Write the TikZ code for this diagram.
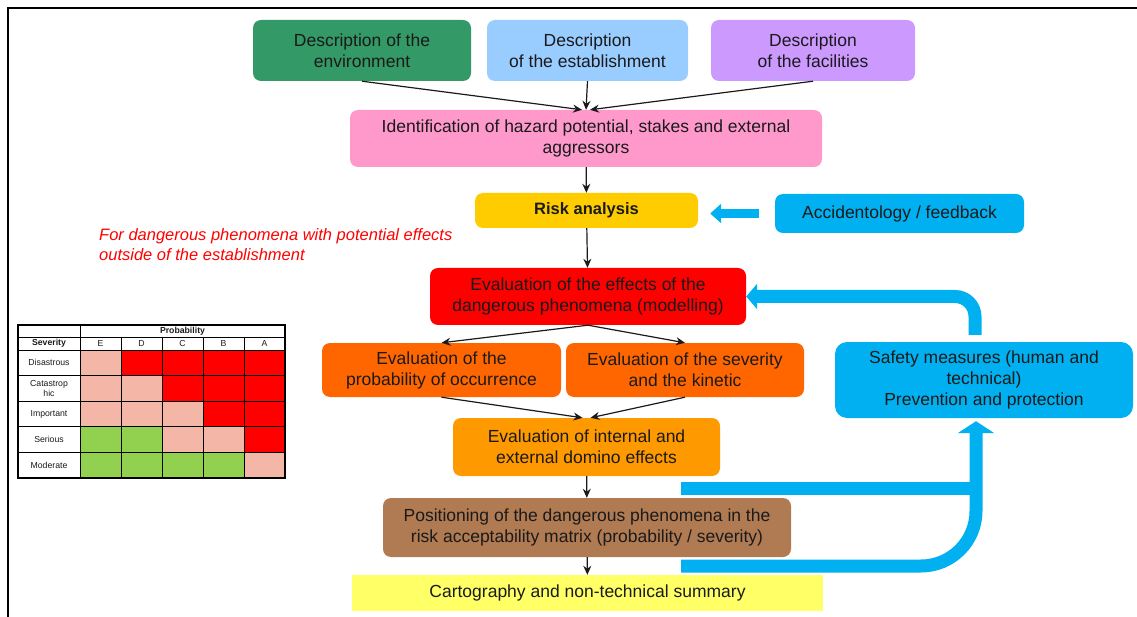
\documentclass[tikz,border=0pt]{standalone}
\usepackage{fontspec}
\setmainfont{Liberation Sans}
\usetikzlibrary{arrows.meta}
\definecolor{envgreen}{HTML}{339966}
\definecolor{estblue}{HTML}{99CCFF}
\definecolor{faclilac}{HTML}{CC99FF}
\definecolor{hazpink}{HTML}{FF99CC}
\definecolor{riskgold}{HTML}{FFCC00}
\definecolor{skyblue}{HTML}{00B0F0}
\definecolor{evalred}{HTML}{FF0000}
\definecolor{evalorange}{HTML}{FF6600}
\definecolor{dominoorange}{HTML}{FF9900}
\definecolor{posbrown}{HTML}{B07A52}
\definecolor{cartoyellow}{HTML}{FFFF66}
\definecolor{cellR}{HTML}{FF0000}
\definecolor{cellP}{HTML}{F4B7A7}
\definecolor{cellG}{HTML}{92D050}
\definecolor{ink}{HTML}{1A1A1A}
\begin{document}
\begin{tikzpicture}[x=1pt,y=1pt,
  box/.style={rounded corners=8pt, align=center, inner sep=2pt, text=ink,
    font=\fontsize{17.5}{21}\selectfont},
  link/.style={-{Stealth[length=9pt,width=8pt]}, line width=1.2pt, ink},
  feed/.style={draw=skyblue, line width=13pt, -{Triangle[length=12pt,width=36pt]}},
  band/.style={draw=skyblue, line width=13pt},
  mlab/.style={align=center, inner sep=0pt, text=ink, font=\fontsize{8.7}{10}\selectfont}]
\useasboundingbox (0,0) rectangle (1137,-617);
\draw[line width=2.5pt] (8,-617) -- (8,-8) -- (1137,-8);

\node[box, fill=envgreen, minimum width=218, minimum height=61] (env) at (362,-50.5) {Description of the\\environment};
\node[box, fill=estblue, minimum width=201, minimum height=61] (est) at (587.5,-50.5) {Description\\of the establishment};
\node[box, fill=faclilac, minimum width=204, minimum height=61] (fac) at (813,-50.5) {Description\\of the facilities};
\node[box, fill=hazpink, minimum width=472, minimum height=57] (ident) at (586,-138.5) {Identification of hazard potential, stakes and external\\aggressors};
\node[box, fill=riskgold, minimum width=223, minimum height=35, font=\bfseries\fontsize{16.5}{21}\selectfont] (risk) at (586.5,-210.5) {Risk analysis};
\node[box, fill=skyblue, minimum width=249, minimum height=39] (accid) at (899.5,-213.5) {Accidentology / feedback};
\node[text=evalred, anchor=north west, align=left, inner sep=0pt, font=\itshape\fontsize{16.5}{20}\selectfont] (note) at (99,-228) {For dangerous phenomena with potential effects\\outside of the establishment};
\node[box, fill=evalred, minimum width=316, minimum height=57] (effects) at (588,-296.5) {Evaluation of the effects of the\\dangerous phenomena (modelling)};
\node[box, fill=evalorange, minimum width=239, minimum height=54] (prob) at (441.5,-370) {Evaluation of the\\probability of occurrence};
\node[box, fill=evalorange, minimum width=238, minimum height=54] (sev) at (685,-370) {Evaluation of the severity\\and the kinetic};
\node[box, fill=dominoorange, minimum width=267, minimum height=58] (domino) at (586.5,-447) {Evaluation of internal and\\external domino effects};
\node[box, fill=posbrown, minimum width=408, minimum height=59] (position) at (587,-527.5) {Positioning of the dangerous phenomena in the\\risk acceptability matrix (probability / severity)};
\node[box, rounded corners=0pt, fill=cartoyellow, minimum width=471, minimum height=36] (carto) at (587.5,-593) {Cartography and non-technical summary};
\node[box, rounded corners=12pt, fill=skyblue, minimum width=298, minimum height=76] (safety) at (984,-380) {Safety measures (human and\\technical)\\Prevention and protection};

% black flow
\draw[link] (env.south) -- ([xshift=-4pt]ident.north);
\draw[link] (est.south) -- (ident.north);
\draw[link] (fac.south) -- ([xshift=4pt]ident.north);
\draw[link] (ident) -- (risk);
\draw[link] (risk) -- (effects);
\draw[link] (effects.south) -- (prob.north);
\draw[link] (effects.south) -- (sev.north);
\draw[link] (prob.south) -- ([xshift=-4pt]domino.north);
\draw[link] (sev.south) -- ([xshift=4pt]domino.north);
\draw[link] (domino) -- (position);
\draw[link] (position) -- (carto);

% blue feedback arrows
\draw[feed, line width=9pt, -{Triangle[length=11pt,width=19pt]}] ([xshift=-16pt]accid.west) -- ([xshift=12pt]risk.east |- accid.west);
\draw[feed, -{Triangle[length=11pt,width=25pt]}, rounded corners=20pt] ([xshift=-9pt,yshift=7pt]safety.north) |- (effects.east);
\coordinate (tip) at ([xshift=-8pt,yshift=-3pt]safety.south);
\coordinate (d0) at (681,-488);
\coordinate (d1) at (681,-566);
\draw[band] (d0) -- (d0 -| tip);
\draw[feed, rounded corners=55pt] (d1) -| (tip);

% risk matrix
\foreach \cells [count=\r] in {{P,R,R,R,R},{P,P,R,R,R},{P,P,P,R,R},{G,G,P,P,R},{G,G,G,G,P}}
  \foreach \c [count=\k] in \cells
    \fill[cell\c] (39+41*\k,-324.4-25.6*\r) rectangle ++(41,-25.6);
\foreach \y in {337,350,375.6,401.2,426.8,452.4}
  \draw[line width=0.8pt] (18,-\y) -- (285,-\y);
\draw[line width=0.8pt] (80,-325) -- (80,-478);
\foreach \k in {1,...,4}
  \draw[line width=0.8pt] (80+41*\k,-337) -- ++(0,-141);
\draw[line width=1.3pt] (18,-325) rectangle (285,-478);
\node[mlab, font=\bfseries\fontsize{8.7}{10}\selectfont] (probhead) at (182.5,-331) {Probability};
\node[mlab, font=\bfseries\fontsize{8.7}{10}\selectfont] (sevhead) at (49,-343.5) {Severity};
\foreach \p [count=\k] in {E,D,C,B,A}
  \node[mlab] at (59.5+41*\k,-343.5) {\p};
\foreach \lab [count=\r] in {Disastrous,{Catastrop\\hic},Important,Serious,Moderate}
  \node[mlab] at (49,-337.2-25.6*\r) {\lab};
\end{tikzpicture}
\end{document}
